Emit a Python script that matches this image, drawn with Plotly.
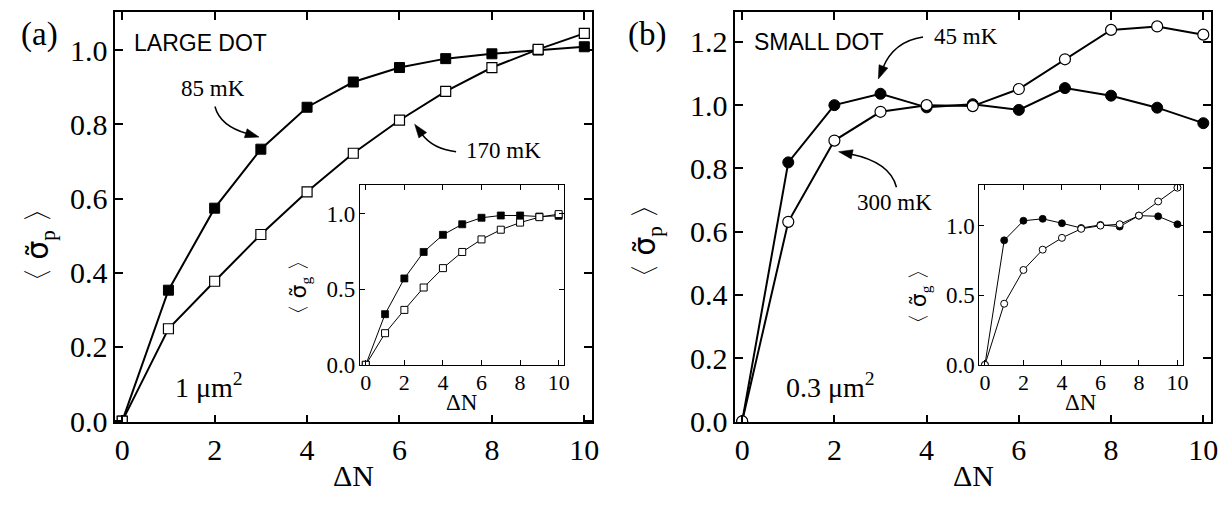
import plotly.graph_objects as go

W, H = 1231, 510

# ---------------- data ----------------
dn = list(range(11))
a_85mK = [0, 0.353, 0.574, 0.733, 0.846, 0.914, 0.953, 0.977, 0.990, 1.000, 1.009]
a_170mK = [0, 0.249, 0.377, 0.503, 0.618, 0.722, 0.811, 0.889, 0.953, 1.002, 1.045]
a_inset_85mK = [0, 0.335, 0.571, 0.746, 0.859, 0.929, 0.972, 0.987, 0.987, 0.980, 0.985]
a_inset_170mK = [0, 0.209, 0.363, 0.511, 0.639, 0.746, 0.829, 0.893, 0.940, 0.976, 0.996]
b_45mK = [0, 0.819, 1.000, 1.036, 0.993, 1.003, 0.985, 1.054, 1.030, 0.992, 0.943]
b_300mK = [0, 0.631, 0.888, 0.979, 1.000, 0.997, 1.051, 1.145, 1.238, 1.249, 1.223]
b_inset_45mK = [0, 0.896, 1.037, 1.051, 1.019, 0.985, 1.007, 0.995, 1.074, 1.069, 1.012]
b_inset_300mK = [0, 0.440, 0.683, 0.829, 0.914, 0.979, 1.002, 1.012, 1.074, 1.176, 1.275]

main_xticks = [0, 2, 4, 6, 8, 10]
a_yticks = [0.0, 0.2, 0.4, 0.6, 0.8, 1.0]
b_yticks = [0.0, 0.2, 0.4, 0.6, 0.8, 1.0, 1.2]
inset_yticks = [0.0, 0.5, 1.0]

SERIF = "Liberation Serif, Times New Roman, DejaVu Serif, serif"
SANS = "Liberation Sans, Arial, Helvetica, sans-serif"


def px(x):
    return x / W


def py(y):
    return 1 - y / H


fig = go.Figure()


def add_series(y, xa, ya, symbol, filled, size, lw, mlw):
    fig.add_trace(go.Scatter(
        x=dn, y=y, xaxis=xa, yaxis=ya, mode="lines+markers",
        line=dict(color="black", width=lw),
        marker=dict(symbol=symbol, size=size,
                    color="black" if filled else "white",
                    line=dict(color="black", width=mlw)),
        showlegend=False, hoverinfo="skip"))


# panel (a) main
add_series(a_85mK, "x", "y", "square", True, 10, 2, 1)
add_series(a_170mK, "x", "y", "square", False, 10, 2, 1.2)
# panel (a) inset
add_series(a_inset_85mK, "x2", "y2", "square", True, 7, 1, 0.8)
add_series(a_inset_170mK, "x2", "y2", "square", False, 7, 1, 1)
# panel (b) main
add_series(b_45mK, "x3", "y3", "circle", True, 11, 2, 1)
add_series(b_300mK, "x3", "y3", "circle", False, 11, 2, 1.2)
# panel (b) inset
add_series(b_inset_45mK, "x4", "y4", "circle", True, 7, 1, 0.8)
add_series(b_inset_300mK, "x4", "y4", "circle", False, 7, 1, 1)


def xax(dom, rng, anchor, fs, ticklen, lw, standoff=0):
    return dict(domain=dom, range=rng, anchor=anchor, tickmode="array",
                tickvals=main_xticks, ticktext=[str(v) for v in main_xticks],
                ticks="inside", ticklen=ticklen, tickwidth=lw, tickcolor="black",
                showline=True, linecolor="black", linewidth=lw, mirror="ticks",
                showgrid=False, zeroline=False, ticklabelstandoff=standoff,
                tickfont=dict(family=SERIF, size=fs, color="black"))


def yax(dom, rng, anchor, vals, fs, ticklen, lw, standoff=0):
    return dict(domain=dom, range=rng, anchor=anchor, tickmode="array",
                tickvals=vals, ticktext=[f"{v:.1f}" for v in vals],
                ticks="inside", ticklen=ticklen, tickwidth=lw, tickcolor="black",
                showline=True, linecolor="black", linewidth=lw, mirror="ticks",
                showgrid=False, zeroline=False, ticklabelstandoff=standoff,
                tickfont=dict(family=SERIF, size=fs, color="black"))


main_ydom = [py(427.7), py(4)]
inset_ydom = [py(369), py(182.5)]

fig.update_layout(
    width=W, height=H,
    margin=dict(l=0, r=0, t=0, b=0),
    paper_bgcolor="white", plot_bgcolor="rgba(0,0,0,0)",
    showlegend=False,
    xaxis=xax([px(107), px(587)], [-0.15, 10.17], "y", 30, 8, 1.5),
    yaxis=yax(main_ydom, [-0.003, 1.103], "x", a_yticks, 30, 8, 1.5),
    xaxis2=xax([px(353.3), px(558.3)], [-0.3, 10.26], "y2", 22, 5, 1.2, -3),
    yaxis2=yax(inset_ydom, [-0.004, 1.19], "x2", inset_yticks, 23, 5, 1.2, -1),
    xaxis3=xax([px(731), px(1210)], [-0.15, 10.17], "y3", 30, 8, 1.5),
    yaxis3=yax(main_ydom, [-0.003, 1.295], "x3", b_yticks, 30, 8, 1.5),
    xaxis4=xax([px(976.7), px(1181.7)], [-0.29, 10.29], "y4", 22, 5, 1.2, -3),
    yaxis4=yax(inset_ydom, [-0.004, 1.296], "x4", inset_yticks, 23, 5, 1.2, -1),
)


def text(t, x, y, size, family=SERIF, angle=0, xanchor="center"):
    fig.add_annotation(text=t, x=px(x), y=py(y), xref="paper", yref="paper",
                       showarrow=False, textangle=angle, xanchor=xanchor,
                       yanchor="middle",
                       font=dict(family=family, size=size, color="black"))


SIG = "<span style='font-family:DejaVu Sans'>σ̃</span>"

# panel labels
text("(a)", 31, 27, 33)
text("(b)", 642, 27, 33)
# dot labels
text("LARGE DOT", 124, 36, 23, SANS, xanchor="left")
text("SMALL DOT", 748, 35, 23, SANS, xanchor="left")
# temperature labels
text("85 mK", 205.5, 83, 23)
text("170 mK", 497.5, 147, 23)
text("45 mK", 963, 29, 23)
text("300 mK", 891.5, 201, 23)
# area labels
text("1 μm<sup>2</sup>", 165, 390, 28, xanchor="left")
text("0.3 μm<sup>2</sup>", 780, 390, 28, xanchor="left")
# axis titles
text("ΔN", 347, 483, 30)
text("ΔN", 970.5, 483, 30)
text("〈 " + SIG + "<sub>p</sub> 〉", 31, 244, 30, angle=-90)
text("〈 " + SIG + "<sub>p</sub> 〉", 642, 240, 30, angle=-90)
text("ΔN", 456, 407, 23)
text("ΔN", 1079, 407, 23)
text("〈 " + SIG + "<sub>g</sub> 〉", 293, 289, 22, angle=-90)
text("〈 " + SIG + "<sub>g</sub> 〉", 917, 298, 22, angle=-90)


def curved_arrow(start, ctrl, tip, d, hl=14, hw=4.8):
    n = (d[0] ** 2 + d[1] ** 2) ** 0.5
    ux, uy = d[0] / n, d[1] / n
    bx, by = tip[0] - hl * ux, tip[1] - hl * uy
    path = (f"M {px(start[0]):.5f},{py(start[1]):.5f} "
            f"Q {px(ctrl[0]):.5f},{py(ctrl[1]):.5f} {px(bx + 2*ux):.5f},{py(by + 2*uy):.5f}")
    fig.add_shape(type="path", path=path, xref="paper", yref="paper",
                  line=dict(color="black", width=1.5))
    nx, ny = -uy, ux
    head = (f"M {px(tip[0]):.5f},{py(tip[1]):.5f} "
            f"L {px(bx + hw*nx):.5f},{py(by + hw*ny):.5f} "
            f"L {px(bx - hw*nx):.5f},{py(by - hw*ny):.5f} Z")
    fig.add_shape(type="path", path=head, xref="paper", yref="paper",
                  line=dict(color="black", width=0.5), fillcolor="black")


curved_arrow((207.3, 101.7), (212.4, 121.9), (251.7, 133.3), (1, 0.3))
curved_arrow((450, 148.3), (426.5, 145.5), (408.3, 120), (-0.58, -0.81))
curved_arrow((920, 30), (890.5, 34.4), (875, 73.3), (-0.37, 0.93))
curved_arrow((893.3, 185), (886.8, 158.9), (835, 148.3), (-0.98, -0.2))

fig.write_html("out.html")
